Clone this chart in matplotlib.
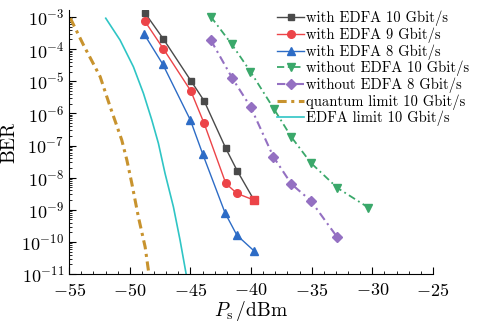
import numpy as np
import matplotlib
matplotlib.use("Agg")
import matplotlib.pyplot as plt
from matplotlib.ticker import MultipleLocator, LogLocator, NullFormatter

plt.rcParams['font.family'] = 'serif'
plt.rcParams['font.serif'] = ['cmr10', 'DejaVu Serif']
plt.rcParams['mathtext.fontset'] = 'cm'
plt.rcParams['axes.formatter.use_mathtext'] = True
plt.rcParams['axes.unicode_minus'] = True

# data: power in dBm, BER as log10
p_edfa10 = [-48.76, -47.23, -44.97, -43.87, -42.08, -41.15, -39.75]
b_edfa10 = [-2.87, -3.685, -4.98, -5.61, -7.09, -7.78, -8.70]
p_edfa9 = [-48.76, -47.23, -44.97, -43.87, -42.08, -41.17, -39.75]
b_edfa9 = [-3.13, -3.99, -5.30, -6.31, -8.18, -8.49, -8.70]
p_edfa8 = [-48.82, -47.28, -45.0, -43.98, -42.14, -41.17, -39.75]
b_edfa8 = [-3.53, -4.47, -6.21, -7.27, -9.10, -9.79, -10.28]
p_no10 = [-43.32, -41.59, -40.05, -38.10, -36.67, -35.07, -32.88, -30.33]
b_no10 = [-2.99, -3.85, -4.70, -5.87, -6.74, -7.54, -8.32, -8.93]
p_no8 = [-43.32, -41.54, -40.02, -38.16, -36.67, -35.07, -32.88]
b_no8 = [-3.72, -4.91, -5.81, -7.35, -8.20, -8.72, -9.86]
p_qlim = [-54.9, -53.82, -52.44, -51.62, -50.66, -50.24, -49.83, -49.29, -48.73, -48.42]
b_qlim = [-3.04, -3.87, -4.86, -5.79, -6.83, -7.45, -8.18, -9.22, -10.16, -11.0]
p_elim = [-51.98, -50.80, -49.70, -48.87, -48.18, -47.64, -47.09, -46.40, -45.85, -45.35]
b_elim = [-3.04, -3.72, -4.55, -5.38, -6.21, -6.93, -7.87, -8.91, -9.95, -11.0]

def ber(v):
    return 10.0 ** np.array(v)

fig = plt.figure(figsize=(4.8, 3.29), dpi=100)
ax = fig.add_axes([0.144, 0.167, 0.758, 0.803])

ax.plot(p_edfa10, ber(b_edfa10), '-s', color='#4a4a4a', lw=1, ms=5, label='with EDFA 10 Gbit/s')
ax.plot(p_edfa9, ber(b_edfa9), '-o', color='#ec4448', lw=1, ms=5.5, markevery=[0, 1, 2, 3, 4, 5],
        label='with EDFA 9 Gbit/s')
ax.plot(p_edfa9[-1:], ber(b_edfa9[-1:]), 's', color='#ec4448', ms=5.5)
ax.plot(p_edfa8, ber(b_edfa8), '-^', color='#2d6cc6', lw=1, ms=6, label='with EDFA 8 Gbit/s')
ax.plot(p_no10, ber(b_no10), 'v', ls=(0, (4, 2, 1, 2)), color='#3aa86a', lw=1.3, ms=6,
        label='without EDFA 10 Gbit/s')
ax.plot(p_no8, ber(b_no8), 'D', ls=(0, (4, 2, 1, 2)), color='#9470c2', lw=1.5, ms=5,
        label='without EDFA 8 Gbit/s')
ax.plot(p_qlim, ber(b_qlim), ls=(0, (3, 1.5, 1, 1.5)), color='#c8932e', lw=2.2,
        label='quantum limit 10 Gbit/s')
ax.plot(p_elim, ber(b_elim), '-', color='#2fc5c5', lw=1.2, label='EDFA limit 10 Gbit/s')

ax.set_yscale('log')
ax.set_xlim(-55, -25)
ax.set_ylim(1e-11, 1.66e-3)
ax.xaxis.set_major_locator(MultipleLocator(5))
ax.xaxis.set_minor_locator(MultipleLocator(1))
ax.yaxis.set_major_locator(LogLocator(base=10, numticks=20))
ax.yaxis.set_minor_locator(LogLocator(base=10, subs=np.arange(2, 10), numticks=20))
ax.yaxis.set_minor_formatter(NullFormatter())
ax.tick_params(which='both', direction='in', labelsize=13)
ax.tick_params(which='major', length=5)
ax.tick_params(which='minor', length=2.5)
ax.tick_params(axis='x', which='major', pad=6)
ax.spines['top'].set_visible(False)
ax.spines['right'].set_visible(False)

ax.set_xlabel(r'$P_{\rm s}\,$/dBm', fontsize=14, labelpad=0)
ax.set_ylabel('BER', fontsize=14, labelpad=2)

fig.legend(loc='upper right', bbox_to_anchor=(1.0, 1.0), frameon=False, fontsize=10.5,
           handlelength=1.8, handletextpad=0.15, labelspacing=0.08, borderpad=0.25)

fig.savefig('out.png', dpi=100)
